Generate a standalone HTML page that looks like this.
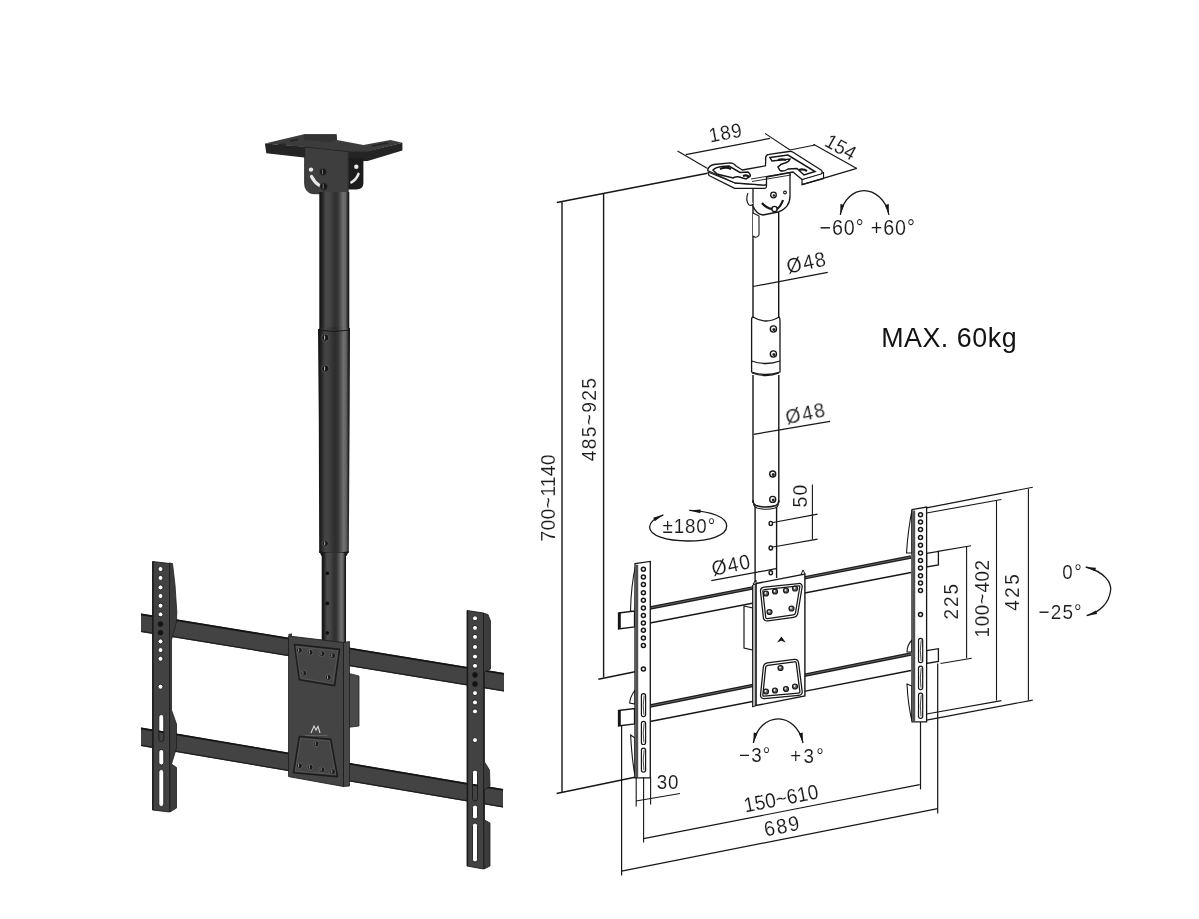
<!DOCTYPE html>
<html><head><meta charset="utf-8"><style>
html,body{margin:0;padding:0;background:#fff;}
svg{display:block;}
text{font-family:"Liberation Sans",sans-serif;}
</style></head><body>
<svg width="1199" height="919" viewBox="0 0 1199 919">
<rect width="1199" height="919" fill="#fff"/>
<g><polygon points="141.0,613.6 504.0,673.1 504.0,691.4 141.0,631.9" fill="#434343"/>
<line x1="141" y1="614.4" x2="504" y2="673.9" stroke="#141414" stroke-width="1.8"/>
<line x1="141" y1="631.3" x2="504" y2="690.8" stroke="#1e1e1e" stroke-width="1.3"/>
<polygon points="141.0,727.6 503.0,789.1 503.0,807.5 141.0,746.0" fill="#434343"/>
<line x1="141" y1="728.4" x2="503" y2="789.9" stroke="#141414" stroke-width="1.8"/>
<line x1="141" y1="745.4" x2="503" y2="806.9" stroke="#1e1e1e" stroke-width="1.3"/>
<polygon points="343.0,672.0 359.0,676.0 359.0,726.0 343.0,728.0" fill="#4a4a4a" stroke="#222" stroke-width="0.8"/>
<polygon points="169.0,563.0 172.5,563.5 175.0,585.0 176.8,612.0 176.5,622.0 171.5,640.0 171.5,710.0 176.5,724.0 176.5,748.0 171.5,764.0 176.5,767.5 176.5,808.0 170.0,812.0" fill="#3c3c3c" stroke="#1e1e1e" stroke-width="0.8"/>
<circle cx="160.5" cy="624" r="2.6" fill="#121212"/>
<circle cx="160.5" cy="632.7" r="2.6" fill="#121212"/>
<path d="M152.5,561.5 L169.5,563.5 L169.5,812 L152.5,810 Z M158.0,569 a2.5,2.5 0 1,0 5.0,0 a2.5,2.5 0 1,0 -5.0,0 Z M158.0,577.9 a2.5,2.5 0 1,0 5.0,0 a2.5,2.5 0 1,0 -5.0,0 Z M158.0,587.4 a2.5,2.5 0 1,0 5.0,0 a2.5,2.5 0 1,0 -5.0,0 Z M158.0,596 a2.5,2.5 0 1,0 5.0,0 a2.5,2.5 0 1,0 -5.0,0 Z M158.0,605.7 a2.5,2.5 0 1,0 5.0,0 a2.5,2.5 0 1,0 -5.0,0 Z M158.0,614.4 a2.5,2.5 0 1,0 5.0,0 a2.5,2.5 0 1,0 -5.0,0 Z M158.0,624 a2.5,2.5 0 1,0 5.0,0 a2.5,2.5 0 1,0 -5.0,0 Z M158.0,632.7 a2.5,2.5 0 1,0 5.0,0 a2.5,2.5 0 1,0 -5.0,0 Z M158.0,641.4 a2.5,2.5 0 1,0 5.0,0 a2.5,2.5 0 1,0 -5.0,0 Z M158.0,650.1 a2.5,2.5 0 1,0 5.0,0 a2.5,2.5 0 1,0 -5.0,0 Z M158.0,658.8 a2.5,2.5 0 1,0 5.0,0 a2.5,2.5 0 1,0 -5.0,0 Z M158.0,686.7 a2.5,2.5 0 1,0 5.0,0 a2.5,2.5 0 1,0 -5.0,0 Z M158.8,717.0 a2.5,2.5 0 0,1 5.0,0 L163.8,739.0 a2.5,2.5 0 0,1 -5.0,0 Z M158.8,752.0 a2.5,2.5 0 0,1 5.0,0 L163.8,762.5 a2.5,2.5 0 0,1 -5.0,0 Z M158.8,772.0 a2.5,2.5 0 0,1 5.0,0 L163.8,804.0 a2.5,2.5 0 0,1 -5.0,0 Z " fill="#424242" fill-rule="evenodd" stroke="#1c1c1c" stroke-width="0.9"/>
<line x1="153.1" y1="561.5" x2="153.1" y2="810" stroke="#1a1a1a" stroke-width="1.2"/>
<polygon points="483.0,613.0 488.0,614.5 490.5,621.0 490.5,669.0 484.5,672.0 484.5,762.0 489.5,770.0 490.0,786.0 484.5,790.0 484.5,820.0 490.0,823.0 490.0,866.0 484.0,869.0" fill="#3c3c3c" stroke="#1e1e1e" stroke-width="0.8"/>
<circle cx="475" cy="674.9" r="2.6" fill="#121212"/>
<circle cx="475" cy="684" r="2.6" fill="#121212"/>
<path d="M467,610.5 L483.5,613 L483.5,869 L467,866 Z M472.5,618.3 a2.5,2.5 0 1,0 5.0,0 a2.5,2.5 0 1,0 -5.0,0 Z M472.5,627.9 a2.5,2.5 0 1,0 5.0,0 a2.5,2.5 0 1,0 -5.0,0 Z M472.5,636.9 a2.5,2.5 0 1,0 5.0,0 a2.5,2.5 0 1,0 -5.0,0 Z M472.5,647 a2.5,2.5 0 1,0 5.0,0 a2.5,2.5 0 1,0 -5.0,0 Z M472.5,656.6 a2.5,2.5 0 1,0 5.0,0 a2.5,2.5 0 1,0 -5.0,0 Z M472.5,665.8 a2.5,2.5 0 1,0 5.0,0 a2.5,2.5 0 1,0 -5.0,0 Z M472.5,674.9 a2.5,2.5 0 1,0 5.0,0 a2.5,2.5 0 1,0 -5.0,0 Z M472.5,684 a2.5,2.5 0 1,0 5.0,0 a2.5,2.5 0 1,0 -5.0,0 Z M472.5,693.1 a2.5,2.5 0 1,0 5.0,0 a2.5,2.5 0 1,0 -5.0,0 Z M472.5,702.4 a2.5,2.5 0 1,0 5.0,0 a2.5,2.5 0 1,0 -5.0,0 Z M472.5,711.4 a2.5,2.5 0 1,0 5.0,0 a2.5,2.5 0 1,0 -5.0,0 Z M472.5,740.1 a2.5,2.5 0 1,0 5.0,0 a2.5,2.5 0 1,0 -5.0,0 Z M472.5,772.5 a2.5,2.5 0 0,1 5.0,0 L477.5,798.5 a2.5,2.5 0 0,1 -5.0,0 Z M472.5,807.5 a2.5,2.5 0 0,1 5.0,0 L477.5,816.5 a2.5,2.5 0 0,1 -5.0,0 Z M472.5,825.5 a2.5,2.5 0 0,1 5.0,0 L477.5,859.5 a2.5,2.5 0 0,1 -5.0,0 Z " fill="#424242" fill-rule="evenodd" stroke="#1c1c1c" stroke-width="0.9"/>
<line x1="467.6" y1="610.5" x2="467.6" y2="866" stroke="#1a1a1a" stroke-width="1.2"/>
<polygon points="264.9,143.4 304.0,146.5 350.0,151.0 368.0,151.0 402.4,142.7 402.4,150.5 367.7,161.1 349.0,161.5 304.0,157.5 266.3,153.3" fill="#242424"/>
<polygon points="264.9,143.4 303.9,134.2 336.5,134.2 337.0,140.0 363.4,145.0 390.4,139.9 402.4,142.7 368.0,151.5 350.0,151.5 304.0,147.0" fill="#3c3c3c"/>
<polygon points="303.9,134.2 336.5,134.2 337.0,140.0 330.0,142.0 304.0,140.0" fill="#333"/>
<path d="M290,141 L298,139.5 M372,146 L388,143 M278,145 Q282,143.5 286,144.5" stroke="#252525" stroke-width="1.4" fill="none"/>
<path d="M347,158 L363.4,158 L363.4,183 Q363.4,189.5 356,189.5 L347,189.5 Z" fill="#1c1c1c"/>
<path d="M304.6,147 L348,151.5 L348,194 L313,193.7 Q304.6,192.5 304.6,183 Z" fill="#3e3e3e" stroke="#222" stroke-width="0.8"/>
<line x1="348" y1="152" x2="348" y2="194" stroke="#3a3a3a" stroke-width="1"/>
<circle cx="311" cy="169.6" r="2.2" fill="#e8e8e8"/>
<path d="M311.5,176.5 Q314.5,182.5 319.5,185.5" stroke="#e8e8e8" stroke-width="3.2" fill="none" stroke-linecap="round"/>
<circle cx="323" cy="171.8" r="3.6" fill="#181818" stroke="#3c3c3c" stroke-width="0.8"/>
<circle cx="323.7" cy="186.6" r="3.8" fill="#181818" stroke="#3c3c3c" stroke-width="0.8"/>
<path d="M322.5,169.5 L322.5,174 M323.2,184 L323.2,189" stroke="#888" stroke-width="0.8"/>
<circle cx="356.3" cy="166.8" r="2.2" fill="#e8e8e8"/>
<path d="M358.5,173.9 Q356.5,179.5 351.4,182.4" stroke="#e8e8e8" stroke-width="2.6" fill="none" stroke-linecap="round"/>
<defs><linearGradient id="pg" x1="0" x2="1" y1="0" y2="0"><stop offset="0" stop-color="#121212"/><stop offset="0.07" stop-color="#1c1c1c"/><stop offset="0.22" stop-color="#4a4a4a"/><stop offset="0.34" stop-color="#464646"/><stop offset="0.53" stop-color="#2f2f2f"/><stop offset="0.63" stop-color="#383838"/><stop offset="0.8" stop-color="#727272"/><stop offset="0.88" stop-color="#646464"/><stop offset="0.95" stop-color="#262626"/><stop offset="1" stop-color="#111"/></linearGradient><linearGradient id="pg2" x1="0" x2="1" y1="0" y2="0"><stop offset="0" stop-color="#111"/><stop offset="0.07" stop-color="#1c1c1c"/><stop offset="0.22" stop-color="#444"/><stop offset="0.34" stop-color="#404040"/><stop offset="0.53" stop-color="#2c2c2c"/><stop offset="0.63" stop-color="#353535"/><stop offset="0.8" stop-color="#707070"/><stop offset="0.88" stop-color="#626262"/><stop offset="0.95" stop-color="#242424"/><stop offset="1" stop-color="#111"/></linearGradient></defs>
<rect x="319.3" y="192" width="30.0" height="138" fill="url(#pg)"/>
<path d="M318,329 Q334,325 350,328 L349.6,420 L348.8,553 L319.2,553 L318.8,420 Z" fill="url(#pg2)"/>
<path d="M318,330 Q334,333 350,330" stroke="#1a1a1a" stroke-width="1" fill="none"/>
<circle cx="325.3" cy="337.7" r="3.6" fill="#161616" stroke="#5a5a5a" stroke-width="0.8"/>
<path d="M324.6,335.5 L324.6,339.7" stroke="#aaa" stroke-width="1.1"/>
<circle cx="325.3" cy="368.6" r="3.6" fill="#161616" stroke="#5a5a5a" stroke-width="0.8"/>
<path d="M324.6,366.40000000000003 L324.6,370.6" stroke="#aaa" stroke-width="1.1"/>
<circle cx="325.3" cy="543.5" r="3" fill="#161616" stroke="#5a5a5a" stroke-width="0.8"/>
<path d="M324.7,541.7 L324.7,545.3" stroke="#aaa" stroke-width="1"/>
<path d="M319,551 Q334,555 349,551 L346.5,556 L321.5,556 Z" fill="#1b1b1b"/>
<rect x="321.7" y="553" width="24.30000000000001" height="92" fill="url(#pg)"/>
<circle cx="327.3" cy="573.3" r="1.8" fill="#0e0e0e"/>
<circle cx="327.3" cy="603.4" r="1.8" fill="#0e0e0e"/>
<circle cx="327.3" cy="633" r="1.8" fill="#0e0e0e"/>
<polygon points="343.5,642.5 349.5,641.5 349.5,786.0 343.5,786.5" fill="#474747" stroke="#1e1e1e" stroke-width="0.8"/>
<polygon points="288.6,636.0 343.5,642.5 343.5,786.5 288.6,776.6" fill="#444" stroke="#1e1e1e" stroke-width="0.9"/>
<polygon points="288.5,634.0 292.0,633.5 292.0,637.0 288.5,637.0" fill="#333"/>
<polygon points="294.5,644.5 339.5,649.4 334.6,685.6 299.4,679.7" fill="#454545" stroke="#1c1c1c" stroke-width="1.6" stroke-linejoin="round"/>
<polygon points="296.0,646.5 337.5,651.0 333.0,683.5 300.5,678.0" fill="none" stroke="#5a5a5a" stroke-width="0.7"/>
<polygon points="299.4,736.5 330.7,739.4 337.5,776.6 293.5,772.7" fill="#454545" stroke="#1c1c1c" stroke-width="1.6" stroke-linejoin="round"/>
<polygon points="300.5,738.5 329.5,741.0 335.5,774.5 295.5,771.0" fill="none" stroke="#5a5a5a" stroke-width="0.7"/>
<circle cx="299.4" cy="650.3" r="2.9" fill="#1a1a1a" stroke="#666" stroke-width="0.8"/>
<path d="M298.6,648.5 L298.6,651.9" stroke="#9a9a9a" stroke-width="0.9"/>
<circle cx="310.1" cy="652.3" r="2.9" fill="#1a1a1a" stroke="#666" stroke-width="0.8"/>
<path d="M309.3,650.5 L309.3,653.9" stroke="#9a9a9a" stroke-width="0.9"/>
<circle cx="321.9" cy="653.7" r="2.9" fill="#1a1a1a" stroke="#666" stroke-width="0.8"/>
<path d="M321.1,651.9 L321.1,655.3" stroke="#9a9a9a" stroke-width="0.9"/>
<circle cx="332.6" cy="655.6" r="2.9" fill="#1a1a1a" stroke="#666" stroke-width="0.8"/>
<path d="M331.8,653.8 L331.8,657.2" stroke="#9a9a9a" stroke-width="0.9"/>
<circle cx="303.7" cy="673.2" r="2.9" fill="#1a1a1a" stroke="#666" stroke-width="0.8"/>
<path d="M302.9,671.4 L302.9,674.8" stroke="#9a9a9a" stroke-width="0.9"/>
<circle cx="328.3" cy="677.4" r="2.9" fill="#1a1a1a" stroke="#666" stroke-width="0.8"/>
<path d="M327.5,675.6 L327.5,679.0" stroke="#9a9a9a" stroke-width="0.9"/>
<circle cx="316" cy="743.7" r="2.9" fill="#1a1a1a" stroke="#666" stroke-width="0.8"/>
<path d="M315.2,741.9 L315.2,745.3" stroke="#9a9a9a" stroke-width="0.9"/>
<circle cx="299.4" cy="765.8" r="2.9" fill="#1a1a1a" stroke="#666" stroke-width="0.8"/>
<path d="M298.6,764.0 L298.6,767.4" stroke="#9a9a9a" stroke-width="0.9"/>
<circle cx="310.1" cy="767.2" r="2.9" fill="#1a1a1a" stroke="#666" stroke-width="0.8"/>
<path d="M309.3,765.4 L309.3,768.8" stroke="#9a9a9a" stroke-width="0.9"/>
<circle cx="321.9" cy="769.8" r="2.9" fill="#1a1a1a" stroke="#666" stroke-width="0.8"/>
<path d="M321.1,768.0 L321.1,771.4" stroke="#9a9a9a" stroke-width="0.9"/>
<circle cx="332.6" cy="771.7" r="2.9" fill="#1a1a1a" stroke="#666" stroke-width="0.8"/>
<path d="M331.8,769.9 L331.8,773.3" stroke="#9a9a9a" stroke-width="0.9"/>
<path d="M311,733 L314,726 L316,730 L318,726.5 L320,733" stroke="#d8d8d8" stroke-width="1.1" fill="none"/>
<line x1="305" y1="735.5" x2="327.5" y2="735.5" stroke="#777" stroke-width="0.6"/></g>
<g><line x1="556.8" y1="202.5" x2="707.5" y2="173.2" stroke="#161616" stroke-width="1.4"/>
<line x1="562.0" y1="202.0" x2="562.0" y2="792.5" stroke="#161616" stroke-width="1.4"/>
<line x1="603.6" y1="193.0" x2="603.6" y2="677.5" stroke="#161616" stroke-width="1.4"/>
<line x1="556.6" y1="793.5" x2="636.0" y2="777.0" stroke="#161616" stroke-width="1.4"/>
<line x1="598.3" y1="679.2" x2="635.0" y2="671.8" stroke="#161616" stroke-width="1.4"/>
<polygon points="650.0,608.0 911.0,557.0 911.0,572.5 650.0,623.0" fill="#fff" stroke="none"/>
<line x1="650" y1="608" x2="911" y2="557" stroke="#1c1c1c" stroke-width="3.4"/>
<line x1="650" y1="608" x2="911" y2="557" stroke="#6a6a6a" stroke-width="0.9"/>
<line x1="650.0" y1="623.0" x2="911.0" y2="572.5" stroke="#161616" stroke-width="1.4"/>
<polygon points="650.0,706.0 911.0,654.0 911.0,670.5 650.0,721.5" fill="#fff" stroke="none"/>
<line x1="650" y1="706" x2="911" y2="654" stroke="#1c1c1c" stroke-width="3.4"/>
<line x1="650" y1="706" x2="911" y2="654" stroke="#6a6a6a" stroke-width="0.9"/>
<line x1="650.0" y1="721.5" x2="911.0" y2="670.5" stroke="#161616" stroke-width="1.4"/>
<polygon points="618.5,613.0 634.5,611.0 634.5,627.0 618.5,629.0" fill="#fff" stroke="#161616" stroke-width="1.3"/>
<line x1="619.8" y1="613" x2="619.8" y2="629" stroke="#161616" stroke-width="2"/>
<polygon points="618.5,710.5 634.5,708.5 634.5,724.0 618.5,726.0" fill="#fff" stroke="#161616" stroke-width="1.3"/>
<line x1="619.8" y1="710.5" x2="619.8" y2="726" stroke="#161616" stroke-width="2"/>
<path d="M636,563.5 Q631,585 630.5,611 L635,611 Z M635,690 Q630,697 629.7,703 L635,704 Z M630.6,735 L635,738 L635,776 Q632,760 630.6,735 Z" fill="#fff" stroke="#161616" stroke-width="1.1"/>
<polygon points="635.0,563.7 650.3,561.4 650.3,777.8 635.0,777.8" fill="#fff" stroke="#161616" stroke-width="1.3"/>
<line x1="636.9" y1="564.7" x2="636.9" y2="777.8" stroke="#505050" stroke-width="2.6"/>
<circle cx="643.4" cy="569.3" r="2.0" fill="#fff" stroke="#161616" stroke-width="1.5"/>
<circle cx="643.4" cy="577" r="2.0" fill="#fff" stroke="#161616" stroke-width="1.5"/>
<circle cx="643.4" cy="584.6" r="2.0" fill="#fff" stroke="#161616" stroke-width="1.5"/>
<circle cx="643.4" cy="592.7" r="2.0" fill="#fff" stroke="#161616" stroke-width="1.5"/>
<circle cx="643.4" cy="600.3" r="2.0" fill="#fff" stroke="#161616" stroke-width="1.5"/>
<circle cx="643.4" cy="607.9" r="2.0" fill="#fff" stroke="#161616" stroke-width="1.5"/>
<circle cx="643.4" cy="615.5" r="2.0" fill="#fff" stroke="#161616" stroke-width="1.5"/>
<circle cx="643.4" cy="623.1" r="2.0" fill="#fff" stroke="#161616" stroke-width="1.5"/>
<circle cx="643.4" cy="630.3" r="2.0" fill="#fff" stroke="#161616" stroke-width="1.5"/>
<circle cx="643.4" cy="637.9" r="2.0" fill="#fff" stroke="#161616" stroke-width="1.5"/>
<circle cx="643.4" cy="645.5" r="2.0" fill="#fff" stroke="#161616" stroke-width="1.5"/>
<circle cx="643.4" cy="669.1" r="2.0" fill="#fff" stroke="#161616" stroke-width="1.5"/>
<rect x="641.4" y="693.6" width="4.2" height="23.100000000000023" rx="2.1" fill="#fff" stroke="#161616" stroke-width="1.2"/>
<path d="M644.1,695.6 Q642.5,705.2 643.9,714.7" fill="none" stroke="#161616" stroke-width="0.8"/>
<rect x="641.4" y="721.4" width="4.2" height="23.100000000000023" rx="2.1" fill="#fff" stroke="#161616" stroke-width="1.2"/>
<path d="M644.1,723.4 Q642.5,733.0 643.9,742.5" fill="none" stroke="#161616" stroke-width="0.8"/>
<rect x="641.4" y="748.2" width="4.2" height="24.0" rx="2.1" fill="#fff" stroke="#161616" stroke-width="1.2"/>
<path d="M644.1,750.2 Q642.5,760.2 643.9,770.2" fill="none" stroke="#161616" stroke-width="0.8"/>
<polygon points="926.6,553.4 938.4,551.4 938.4,565.0 926.6,567.0" fill="#fff" stroke="#161616" stroke-width="1.3"/>
<polygon points="926.6,650.7 938.4,648.7 938.4,661.5 926.6,663.5" fill="#fff" stroke="#161616" stroke-width="1.3"/>
<path d="M912,510 Q908,530 906.5,553 L912,553 Z M912,640 Q907,645 907,652 L912,652 Z M907,684 L912,686 L912,721 Q908,705 907,684 Z" fill="#fff" stroke="#161616" stroke-width="1.1"/>
<polygon points="912.0,509.6 926.6,507.0 926.6,721.9 912.0,721.9" fill="#fff" stroke="#161616" stroke-width="1.3"/>
<line x1="913.9" y1="510.6" x2="913.9" y2="721.9" stroke="#505050" stroke-width="2.6"/>
<circle cx="920.5" cy="514.8" r="2.0" fill="#fff" stroke="#161616" stroke-width="1.5"/>
<circle cx="920.5" cy="522.1" r="2.0" fill="#fff" stroke="#161616" stroke-width="1.5"/>
<circle cx="920.5" cy="529.6" r="2.0" fill="#fff" stroke="#161616" stroke-width="1.5"/>
<circle cx="920.5" cy="537.5" r="2.0" fill="#fff" stroke="#161616" stroke-width="1.5"/>
<circle cx="920.5" cy="545.3" r="2.0" fill="#fff" stroke="#161616" stroke-width="1.5"/>
<circle cx="920.5" cy="553.1" r="2.0" fill="#fff" stroke="#161616" stroke-width="1.5"/>
<circle cx="920.5" cy="560.4" r="2.0" fill="#fff" stroke="#161616" stroke-width="1.5"/>
<circle cx="920.5" cy="567.9" r="2.0" fill="#fff" stroke="#161616" stroke-width="1.5"/>
<circle cx="920.5" cy="575.8" r="2.0" fill="#fff" stroke="#161616" stroke-width="1.5"/>
<circle cx="920.5" cy="583" r="2.0" fill="#fff" stroke="#161616" stroke-width="1.5"/>
<circle cx="920.5" cy="590.5" r="2.0" fill="#fff" stroke="#161616" stroke-width="1.5"/>
<circle cx="920.5" cy="614.4" r="2.0" fill="#fff" stroke="#161616" stroke-width="1.5"/>
<rect x="918.5" y="638.3" width="4.2" height="24.40000000000009" rx="2.1" fill="#fff" stroke="#161616" stroke-width="1.2"/>
<path d="M921.2,640.3 Q919.6,650.5 921.0,660.7" fill="none" stroke="#161616" stroke-width="0.8"/>
<rect x="918.5" y="666.2" width="4.2" height="23.5" rx="2.1" fill="#fff" stroke="#161616" stroke-width="1.2"/>
<path d="M921.2,668.2 Q919.6,678.0 921.0,687.7" fill="none" stroke="#161616" stroke-width="0.8"/>
<rect x="918.5" y="693.1" width="4.2" height="25.299999999999955" rx="2.1" fill="#fff" stroke="#161616" stroke-width="1.2"/>
<path d="M921.2,695.1 Q919.6,705.8 921.0,716.4" fill="none" stroke="#161616" stroke-width="0.8"/>
<polygon points="744.0,606.0 752.6,608.0 752.6,650.0 744.0,648.0" fill="#fff" stroke="#161616" stroke-width="1.2"/>
<polygon points="752.6,585.0 756.1,583.5 756.1,705.5 752.6,707.0" fill="#bbb" stroke="#161616" stroke-width="1"/>
<polygon points="756.1,583.5 804.9,574.0 804.9,695.9 756.1,705.5" fill="#fff" stroke="#161616" stroke-width="1.4"/>
<polygon points="753.0,584.0 756.0,580.0 756.0,584.0" fill="#fff" stroke="#161616" stroke-width="1"/>
<polygon points="801.0,574.5 803.0,570.0 805.0,574.0" fill="#fff" stroke="#161616" stroke-width="1"/>
<path d="M761.7,591.5 Q761.4,588.7 764.2,588.4 L798.6,584.7 Q801.4,584.4 800.9,587.2 L796.7,612.9 Q796.2,615.7 793.4,616.1 L767.6,619.7 Q764.8,620.1 764.5,617.3 Z" fill="none" stroke="#161616" stroke-width="3.6"/>
<path d="M761.7,591.5 Q761.4,588.7 764.2,588.4 L798.6,584.7 Q801.4,584.4 800.9,587.2 L796.7,612.9 Q796.2,615.7 793.4,616.1 L767.6,619.7 Q764.8,620.1 764.5,617.3 Z" fill="none" stroke="#fff" stroke-width="1.1"/>
<path d="M764.5,667.3 Q764.8,664.5 767.6,664.1 L794.2,660.6 Q797.0,660.2 797.4,663.0 L801.0,691.3 Q801.4,694.1 798.6,694.3 L764.2,697.4 Q761.4,697.6 761.7,694.8 Z" fill="none" stroke="#161616" stroke-width="3.6"/>
<path d="M764.5,667.3 Q764.8,664.5 767.6,664.1 L794.2,660.6 Q797.0,660.2 797.4,663.0 L801.0,691.3 Q801.4,694.1 798.6,694.3 L764.2,697.4 Q761.4,697.6 761.7,694.8 Z" fill="none" stroke="#fff" stroke-width="1.1"/>
<circle cx="766" cy="593.5" r="2.5" fill="#666" stroke="#161616" stroke-width="1.2"/><circle cx="765.5" cy="593.0" r="0.9" fill="#eee"/>
<circle cx="775" cy="591.5" r="2.5" fill="#666" stroke="#161616" stroke-width="1.2"/><circle cx="774.5" cy="591.0" r="0.9" fill="#eee"/>
<circle cx="786" cy="590.5" r="2.5" fill="#666" stroke="#161616" stroke-width="1.2"/><circle cx="785.5" cy="590.0" r="0.9" fill="#eee"/>
<circle cx="795" cy="588.5" r="2.5" fill="#666" stroke="#161616" stroke-width="1.2"/><circle cx="794.5" cy="588.0" r="0.9" fill="#eee"/>
<circle cx="769.5" cy="612" r="2.5" fill="#666" stroke="#161616" stroke-width="1.2"/><circle cx="769.0" cy="611.5" r="0.9" fill="#eee"/>
<circle cx="791.5" cy="608.5" r="2.5" fill="#666" stroke="#161616" stroke-width="1.2"/><circle cx="791.0" cy="608.0" r="0.9" fill="#eee"/>
<circle cx="780.5" cy="668" r="2.5" fill="#666" stroke="#161616" stroke-width="1.2"/><circle cx="780.0" cy="667.5" r="0.9" fill="#eee"/>
<circle cx="766" cy="691.5" r="2.5" fill="#666" stroke="#161616" stroke-width="1.2"/><circle cx="765.5" cy="691.0" r="0.9" fill="#eee"/>
<circle cx="775" cy="690.5" r="2.5" fill="#666" stroke="#161616" stroke-width="1.2"/><circle cx="774.5" cy="690.0" r="0.9" fill="#eee"/>
<circle cx="786" cy="689" r="2.5" fill="#666" stroke="#161616" stroke-width="1.2"/><circle cx="785.5" cy="688.5" r="0.9" fill="#eee"/>
<circle cx="795" cy="686.5" r="2.5" fill="#666" stroke="#161616" stroke-width="1.2"/><circle cx="794.5" cy="686.0" r="0.9" fill="#eee"/>
<path d="M777,642.5 L781.4,636.5 L785.8,642.5 L781.4,640.8 Z" fill="#161616"/>
<rect x="753" y="205" width="25.8" height="115" fill="#fff" stroke="none"/>
<line x1="753.0" y1="205.0" x2="753.0" y2="320.0" stroke="#161616" stroke-width="1.4"/>
<line x1="778.7" y1="205.0" x2="778.7" y2="320.0" stroke="#161616" stroke-width="1.4"/>
<path d="M753,213 L759,216 L759,235 Q756,239 753,236" fill="#fff" stroke="#161616" stroke-width="1.1"/>
<path d="M751.6,320 Q751.6,317 753,317 Q766,325 779,317 Q780,318 780,321 L780,372 Q766,377 751.6,372 Z" fill="#fff" stroke="#161616" stroke-width="1.3"/>
<path d="M751.6,361 Q766,366 780,361" fill="none" stroke="#161616" stroke-width="1.3"/>
<path d="M752,373 Q766,378 779,373" fill="none" stroke="#161616" stroke-width="1.3"/>
<circle cx="773.4" cy="329" r="3.1" fill="#fff" stroke="#161616" stroke-width="1.4"/><circle cx="773.9" cy="329.5" r="1.5" fill="#222"/>
<circle cx="773.4" cy="354" r="3.1" fill="#fff" stroke="#161616" stroke-width="1.4"/><circle cx="773.9" cy="354.5" r="1.5" fill="#222"/>
<line x1="753.0" y1="375.0" x2="753.0" y2="503.0" stroke="#161616" stroke-width="1.4"/>
<line x1="778.8" y1="375.0" x2="778.8" y2="503.0" stroke="#161616" stroke-width="1.4"/>
<path d="M753,500 Q753,504 756,505.5 Q766,508.5 776,505.5 Q778.8,504 778.8,500" fill="none" stroke="#161616" stroke-width="1.4"/>
<path d="M753.5,503.5 Q754,507 757,508 Q766,510.5 775,508 Q778.3,507 778.3,503.5" fill="none" stroke="#161616" stroke-width="1.2"/>
<circle cx="772.7" cy="474" r="3" fill="#fff" stroke="#161616" stroke-width="1.4"/><circle cx="773.2" cy="474.5" r="1.5" fill="#222"/>
<circle cx="772.7" cy="499.4" r="3" fill="#fff" stroke="#161616" stroke-width="1.4"/><circle cx="773.2" cy="499.9" r="1.5" fill="#222"/>
<line x1="755.1" y1="507.0" x2="755.1" y2="582.0" stroke="#161616" stroke-width="1.4"/>
<line x1="776.6" y1="507.0" x2="776.6" y2="578.0" stroke="#161616" stroke-width="1.4"/>
<ellipse cx="770.8" cy="523.4" rx="1.7" ry="2.0" fill="#fff" stroke="#161616" stroke-width="1.4"/>
<ellipse cx="770.8" cy="548" rx="1.7" ry="2.0" fill="#fff" stroke="#161616" stroke-width="1.4"/>
<ellipse cx="770.8" cy="572.8" rx="1.7" ry="2.0" fill="#fff" stroke="#161616" stroke-width="1.4"/>
<path d="M753,180 L753,206 Q756,214 763,215 L778,212 Q790,208 790,196 L790,165 Z" fill="#fff" stroke="#161616" stroke-width="1.3"/>
<path d="M748,193 Q745,200 749,205 Q752,206 753,204" fill="#fff" stroke="#161616" stroke-width="1.1"/>
<circle cx="773.5" cy="195" r="2.8" fill="#fff" stroke="#161616" stroke-width="1.3"/><circle cx="773.9" cy="195.5" r="1.2" fill="#222"/>
<circle cx="785" cy="192.5" r="1.4" fill="#fff" stroke="#161616" stroke-width="1.1"/>
<path d="M762,203 Q766,208 772,209 M783,200 Q781,206 777,209" fill="none" stroke="#161616" stroke-width="2.2"/>
<circle cx="774.5" cy="209" r="2.6" fill="#fff" stroke="#161616" stroke-width="1.4"/>
<path d="M708,172 L709,175.5 L734.7,188.4 L765,188.4 Q766.8,188 766.5,185 L766.5,183.8 Q766,185.2 764,185.2 L735,183 Z" fill="#fff" stroke="#161616" stroke-width="1.2" stroke-linejoin="round"/>
<path d="M802,179.5 L802,184.6 L823.6,178.6 L823.5,172.5 Z" fill="#fff" stroke="#161616" stroke-width="1.2"/>
<path d="M765.8,157 L765.5,165.8 L768,167 L768,158 Z" fill="#fff" stroke="#161616" stroke-width="1.1"/>
<path d="M707.6,170.5 Q708.5,165.5 714,164.5 L730,162.8 Q734,163 736,166 L742.3,170 L765.5,165.8 L765.8,157 Q766.2,154.6 769,154.3 L789,151.5 Q791.5,151.2 793.5,152.5 L821,170 Q823.5,172 821,174 L802,179.5 L793,172 L766.5,177 L766.5,183.8 Q766,185.2 764,185.2 L735,183 Z" fill="#fff" stroke="#161616" stroke-width="1.3" stroke-linejoin="round"/>
<path d="M713,170 Q716,167 722,166.5 L729,166 L740,172.5 L748,172 Q751,174 750,176.5 L746,179 L741,177.5 Q737,176 733,178 L717,174 Z" fill="none" stroke="#161616" stroke-width="1.5"/>
<path d="M770,157.5 L788,155 L815,171.5 L804,175 L797,168.5 L788,169 Q784,172 780,170.5 L778,167 Q781,163.5 785,163 Q789,162 790,159 L772,161 Z" fill="none" stroke="#161616" stroke-width="1.5"/>
<path d="M751,179 L790,172.5 M752,181.5 L791,175" fill="none" stroke="#161616" stroke-width="0.9"/>
<path d="M720,169 Q726,166.5 731,169 M743,176 Q747,174.5 749,177 M778,160 Q782,158.5 786,160 M799,170 Q803,168.5 807,171" fill="none" stroke="#161616" stroke-width="2.2"/>
<line x1="677.5" y1="150.9" x2="707.5" y2="168.4" stroke="#161616" stroke-width="1.1"/>
<line x1="765.0" y1="133.4" x2="790.0" y2="150.0" stroke="#161616" stroke-width="1.1"/>
<line x1="685.8" y1="154.7" x2="770.0" y2="138.4" stroke="#161616" stroke-width="1.2"/>
<line x1="790.0" y1="150.0" x2="815.0" y2="145.0" stroke="#161616" stroke-width="1.1"/>
<line x1="813.5" y1="144.2" x2="856.8" y2="168.4" stroke="#161616" stroke-width="1.2"/>
<line x1="801.9" y1="184.6" x2="856.8" y2="168.4" stroke="#161616" stroke-width="1.1"/>
<line x1="753.0" y1="286.5" x2="827.7" y2="272.4" stroke="#161616" stroke-width="1.2"/>
<line x1="753.6" y1="434.4" x2="830.0" y2="421.4" stroke="#161616" stroke-width="1.2"/>
<line x1="812.4" y1="484.6" x2="812.4" y2="539.5" stroke="#161616" stroke-width="1.1"/>
<line x1="773.0" y1="522.5" x2="817.6" y2="514.1" stroke="#161616" stroke-width="1.1"/>
<line x1="773.0" y1="547.0" x2="817.6" y2="539.1" stroke="#161616" stroke-width="1.1"/>
<line x1="711.3" y1="580.7" x2="776.0" y2="568.7" stroke="#161616" stroke-width="1.2"/>
<line x1="636.2" y1="777.0" x2="636.2" y2="806.4" stroke="#161616" stroke-width="1.1"/>
<line x1="643.6" y1="777.0" x2="643.6" y2="842.6" stroke="#161616" stroke-width="1.1"/>
<line x1="650.6" y1="777.0" x2="650.6" y2="804.6" stroke="#161616" stroke-width="1.1"/>
<line x1="636.0" y1="801.0" x2="680.0" y2="793.5" stroke="#161616" stroke-width="1.1"/>
<line x1="621.6" y1="726.0" x2="621.6" y2="875.6" stroke="#161616" stroke-width="1.2"/>
<line x1="621.6" y1="871.1" x2="937.7" y2="808.6" stroke="#161616" stroke-width="1.2"/>
<line x1="937.7" y1="663.5" x2="937.7" y2="813.4" stroke="#161616" stroke-width="1.2"/>
<line x1="643.6" y1="838.7" x2="919.7" y2="784.6" stroke="#161616" stroke-width="1.2"/>
<line x1="920.5" y1="722.0" x2="920.5" y2="789.4" stroke="#161616" stroke-width="1.2"/>
<line x1="926.6" y1="507.9" x2="1032.8" y2="487.3" stroke="#161616" stroke-width="1.1"/>
<line x1="1028.4" y1="488.7" x2="1028.4" y2="700.6" stroke="#161616" stroke-width="1.1"/>
<line x1="926.6" y1="720.1" x2="1032.8" y2="700.1" stroke="#161616" stroke-width="1.1"/>
<line x1="926.6" y1="513.0" x2="1001.4" y2="499.5" stroke="#161616" stroke-width="1.1"/>
<line x1="996.5" y1="500.5" x2="996.5" y2="700.6" stroke="#161616" stroke-width="1.1"/>
<line x1="926.6" y1="714.0" x2="1001.4" y2="700.6" stroke="#161616" stroke-width="1.1"/>
<line x1="937.9" y1="551.4" x2="971.0" y2="545.8" stroke="#161616" stroke-width="1.1"/>
<line x1="966.6" y1="546.5" x2="966.6" y2="658.3" stroke="#161616" stroke-width="1.1"/>
<line x1="940.5" y1="663.5" x2="971.8" y2="658.3" stroke="#161616" stroke-width="1.1"/>
<path d="M663.4,514.8 C655,518 649.6,522 649.6,527 C649.6,535.5 666,541 688,541 C710,541 726.7,535.5 726.7,526 C726.7,517 712,511.5 689.2,510.4" fill="none" stroke="#161616" stroke-width="1.3"/>
<polygon points="663.4,514.8 654.8,521.2 653.2,517.8" fill="#161616"/>
<polygon points="689.2,510.4 700.7,509.4 700.3,513.2" fill="#161616"/>
<path d="M840.3,214.9 C843,199 854,190.6 864.1,190.6 C874,190.6 886,199 888.9,214.9" fill="none" stroke="#161616" stroke-width="1.3"/>
<polygon points="840.3,214.9 840.4,204.1 844.2,204.9" fill="#161616"/>
<polygon points="888.9,214.9 885.0,204.9 888.8,204.1" fill="#161616"/>
<path d="M753.4,743 C756,728 767,718.8 778.4,718.8 C789,718.8 800,728 803,743" fill="none" stroke="#161616" stroke-width="1.3"/>
<polygon points="753.4,743.0 753.7,732.6 757.5,733.4" fill="#161616"/>
<polygon points="803.0,743.0 798.9,733.4 802.7,732.6" fill="#161616"/>
<path d="M1085.7,567 C1105,572 1112,583 1110.5,591 C1109,603 1100,612 1086.6,615.7" fill="none" stroke="#161616" stroke-width="1.3"/>
<polygon points="1085.7,567.0 1096.0,567.7 1095.0,571.3" fill="#161616"/>
<polygon points="1086.6,615.7 1095.9,610.5 1097.1,614.1" fill="#161616"/></g>
<g opacity="0.995"><text transform="translate(725.50,132.70) rotate(-10.5) scale(0.930,1) translate(-18.02,6.97)" font-size="20.20" fill="#1a1a1a" stroke="#fff" stroke-width="0.12" letter-spacing="0.90">189</text>
<text transform="translate(841.10,147.25) rotate(29.2) scale(0.930,1) translate(-17.54,6.87)" font-size="20.20" fill="#1a1a1a" stroke="#fff" stroke-width="0.12" letter-spacing="0.27">154</text>
<text transform="translate(867.05,227.65) rotate(0) scale(0.930,1) translate(-51.11,7.31)" font-size="21.20" fill="#1a1a1a" stroke="#fff" stroke-width="0.12" letter-spacing="0.96">−60° +60°</text>
<text transform="translate(806.00,262.50) rotate(-12) scale(0.930,1) translate(-21.21,7.23)" font-size="20.80" fill="#1a1a1a" stroke="#fff" stroke-width="0.12" letter-spacing="1.61">Ø48</text>
<text transform="translate(805.00,413.20) rotate(-12) scale(0.930,1) translate(-21.43,7.23)" font-size="20.80" fill="#1a1a1a" stroke="#fff" stroke-width="0.12" letter-spacing="1.82">Ø48</text>
<text transform="translate(688.50,526.00) rotate(0) scale(0.930,1) translate(-28.03,6.97)" font-size="20.20" fill="#1a1a1a" stroke="#fff" stroke-width="0.12" letter-spacing="0.96">±180°</text>
<text transform="translate(730.70,564.90) rotate(-12) scale(0.930,1) translate(-20.89,7.23)" font-size="20.80" fill="#1a1a1a" stroke="#fff" stroke-width="0.12" letter-spacing="1.23">Ø40</text>
<text transform="translate(800.00,496.15) rotate(-90) scale(0.930,1) translate(-12.28,7.18)" font-size="20.80" fill="#1a1a1a" stroke="#fff" stroke-width="0.12" letter-spacing="1.38">50</text>
<text transform="translate(548.25,497.80) rotate(-90) scale(0.930,1) translate(-47.07,7.24)" font-size="21.00" fill="#1a1a1a" stroke="#fff" stroke-width="0.12" letter-spacing="0.20">700~1140</text>
<text transform="translate(589.30,419.75) rotate(-90) scale(0.930,1) translate(-44.50,7.14)" font-size="20.70" fill="#1a1a1a" stroke="#fff" stroke-width="0.12" letter-spacing="1.38">485~925</text>
<text transform="translate(951.30,601.70) rotate(-90) scale(0.930,1) translate(-19.19,7.04)" font-size="20.40" fill="#1a1a1a" stroke="#fff" stroke-width="0.12" letter-spacing="2.11">225</text>
<text transform="translate(982.10,598.45) rotate(-90) scale(0.930,1) translate(-41.89,6.97)" font-size="20.20" fill="#1a1a1a" stroke="#fff" stroke-width="0.12" letter-spacing="0.68">100~402</text>
<text transform="translate(1012.25,592.70) rotate(-90) scale(0.930,1) translate(-19.44,7.04)" font-size="20.40" fill="#1a1a1a" stroke="#fff" stroke-width="0.12" letter-spacing="2.66">425</text>
<text transform="translate(1071.75,572.20) rotate(0) scale(0.930,1) translate(-10.22,6.97)" font-size="20.20" fill="#1a1a1a" stroke="#fff" stroke-width="0.12" letter-spacing="1.55">0°</text>
<text transform="translate(1060.00,611.60) rotate(0) scale(0.930,1) translate(-23.01,7.04)" font-size="20.40" fill="#1a1a1a" stroke="#fff" stroke-width="0.12" letter-spacing="1.16">−25°</text>
<text transform="translate(754.60,755.25) rotate(0) scale(0.930,1) translate(-16.71,6.97)" font-size="20.20" fill="#1a1a1a" stroke="#fff" stroke-width="0.12" letter-spacing="1.26">−3°</text>
<text transform="translate(806.95,755.90) rotate(0) scale(0.930,1) translate(-17.84,6.97)" font-size="20.20" fill="#1a1a1a" stroke="#fff" stroke-width="0.12" letter-spacing="2.38">+3°</text>
<text transform="translate(667.60,781.95) rotate(0) scale(0.930,1) translate(-11.78,6.97)" font-size="20.20" fill="#1a1a1a" stroke="#fff" stroke-width="0.12" letter-spacing="1.03">30</text>
<text transform="translate(781.50,798.25) rotate(-11) scale(0.930,1) translate(-41.07,7.14)" font-size="20.70" fill="#1a1a1a" stroke="#fff" stroke-width="0.12" letter-spacing="0.03">150~610</text>
<text transform="translate(781.60,826.05) rotate(-11) scale(0.930,1) translate(-19.19,7.21)" font-size="20.90" fill="#1a1a1a" stroke="#fff" stroke-width="0.12" letter-spacing="1.74">689</text>
<text transform="translate(949.05,340.00) rotate(0) scale(1.000,1) translate(-67.89,6.90)" font-size="26.80" fill="#111" letter-spacing="0.54">MAX. 60kg</text></g>
</svg></body></html>
